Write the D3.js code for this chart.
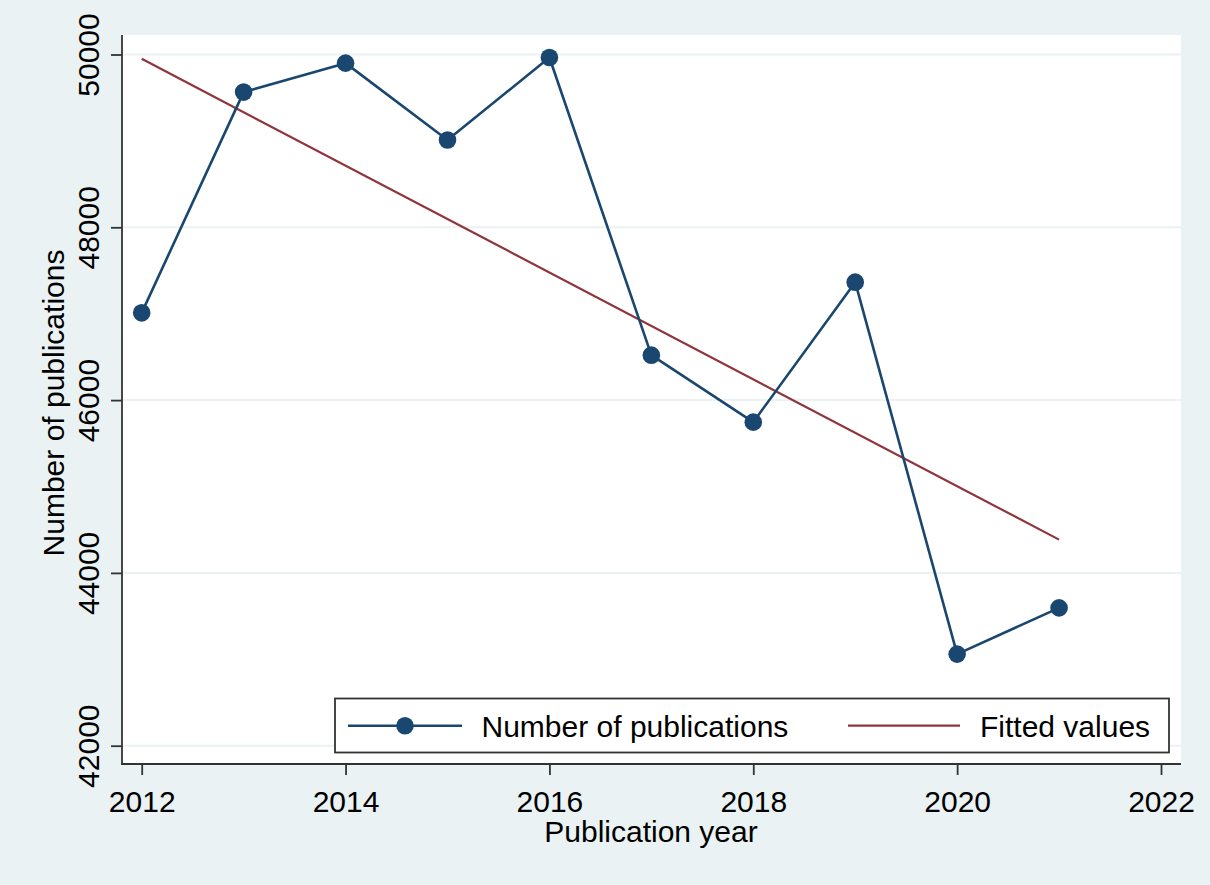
<!DOCTYPE html>
<html>
<head>
<meta charset="utf-8">
<script src="https://cdn.jsdelivr.net/npm/d3@7"></script>
<style>
  html, body { margin: 0; padding: 0; background: #eaf2f3; }
  svg { display: block; font-family: "Liberation Sans", Arial, sans-serif; }
</style>
</head>
<body>
<svg id="chart" width="1210" height="885"></svg>
<script>
// ---- data ----
const years = [2012, 2013, 2014, 2015, 2016, 2017, 2018, 2019, 2020, 2021];
const publications = [47010, 49565, 49900, 49010, 49965, 46520, 45745, 47365, 43060, 43595];
const fittedYears = [2012, 2021];
const fittedValues = [49950, 44385];
const xTicks = [2012, 2014, 2016, 2018, 2020, 2022];
const yTicks = [42000, 44000, 46000, 48000, 50000];
const seriesNames = ["Number of publications", "Fitted values"];
const xTitle = "Publication year";
const yTitle = "Number of publications";

// ---- layout ----
const W = 1210, H = 885;
const plot = { left: 122, right: 1181, top: 35, bottom: 764 };
const navy = "#1a476f", maroon = "#90353b", axisCol = "#333333", gridCol = "#eaf2f3";

const svg = d3.select("#chart");
svg.append("rect").attr("width", W).attr("height", H).attr("fill", "#eaf2f3");
svg.append("rect")
  .attr("x", plot.left).attr("y", plot.top)
  .attr("width", plot.right - plot.left).attr("height", plot.bottom - plot.top)
  .attr("fill", "#ffffff");

const x = d3.scaleLinear().domain([2012, 2022]).range([141.7, 1161]);
const y = d3.scaleLinear().domain([42000, 50000]).range([745.7, 54.5]);

// gridlines
svg.append("g").selectAll("line").data(yTicks).join("line")
  .attr("x1", plot.left).attr("x2", plot.right)
  .attr("y1", d => y(d)).attr("y2", d => y(d))
  .attr("stroke", gridCol).attr("stroke-width", 2);

// y axis
const yAxis = svg.append("g").attr("transform", `translate(${plot.left},0)`)
  .call(d3.axisLeft(y).tickValues(yTicks).tickSize(11).tickFormat(d3.format("d")));
yAxis.select(".domain").remove();
yAxis.selectAll(".tick line").attr("stroke", axisCol).attr("stroke-width", 1.8);
yAxis.selectAll(".tick text")
  .attr("x", null).attr("dy", null)
  .attr("transform", "translate(-23,0) rotate(-90)")
  .attr("text-anchor", "middle")
  .attr("font-size", 30).attr("fill", "#000")
  .attr("font-family", "Liberation Sans, Arial, sans-serif");

// x axis
const xAxis = svg.append("g").attr("transform", `translate(0,${plot.bottom})`)
  .call(d3.axisBottom(x).tickValues(xTicks).tickSize(11).tickFormat(d3.format("d")));
xAxis.select(".domain").remove();
xAxis.selectAll(".tick line").attr("stroke", axisCol).attr("stroke-width", 1.8);
xAxis.selectAll(".tick text")
  .attr("y", 48).attr("dy", null)
  .attr("font-size", 30).attr("fill", "#000")
  .attr("font-family", "Liberation Sans, Arial, sans-serif");

// axis lines
svg.append("line").attr("x1", plot.left).attr("x2", plot.left)
  .attr("y1", plot.top).attr("y2", plot.bottom + 0.9)
  .attr("stroke", axisCol).attr("stroke-width", 1.8);
svg.append("line").attr("x1", plot.left - 0.9).attr("x2", plot.right)
  .attr("y1", plot.bottom).attr("y2", plot.bottom)
  .attr("stroke", axisCol).attr("stroke-width", 1.8);

// fitted line
const fitted = fittedYears.map((yr, i) => ({ yr, v: fittedValues[i] }));
svg.append("path").datum(fitted)
  .attr("d", d3.line().x(d => x(d.yr)).y(d => y(d.v)))
  .attr("fill", "none").attr("stroke", maroon).attr("stroke-width", 2.2);

// main series
const pts = years.map((yr, i) => ({ yr, v: publications[i] }));
svg.append("path").datum(pts)
  .attr("d", d3.line().x(d => x(d.yr)).y(d => y(d.v)))
  .attr("fill", "none").attr("stroke", navy).attr("stroke-width", 2.6)
  .attr("stroke-linejoin", "round");
svg.append("g").selectAll("circle").data(pts).join("circle")
  .attr("cx", d => x(d.yr)).attr("cy", d => y(d.v)).attr("r", 8.8)
  .attr("fill", navy);

// axis titles
svg.append("text").attr("x", 651).attr("y", 842).attr("text-anchor", "middle")
  .attr("font-size", 30).attr("fill", "#000").text(xTitle);
svg.append("text").attr("transform", "translate(64,403) rotate(-90)")
  .attr("text-anchor", "middle").attr("font-size", 30).attr("fill", "#000").text(yTitle);

// legend
const lg = svg.append("g");
lg.append("rect").attr("x", 335).attr("y", 698.5).attr("width", 834).attr("height", 54)
  .attr("fill", "#fff").attr("stroke", axisCol).attr("stroke-width", 1.8);
lg.append("line").attr("x1", 348).attr("x2", 462).attr("y1", 725.7).attr("y2", 725.7)
  .attr("stroke", navy).attr("stroke-width", 2.6);
lg.append("circle").attr("cx", 405).attr("cy", 725.7).attr("r", 8.8).attr("fill", navy);
lg.append("text").attr("x", 481.5).attr("y", 736.5).attr("font-size", 30).attr("fill", "#000")
  .text(seriesNames[0]);
lg.append("line").attr("x1", 848).attr("x2", 960).attr("y1", 725.7).attr("y2", 725.7)
  .attr("stroke", maroon).attr("stroke-width", 2.2);
lg.append("text").attr("x", 980).attr("y", 736.5).attr("font-size", 30).attr("fill", "#000")
  .text(seriesNames[1]);
</script>
</body>
</html>
